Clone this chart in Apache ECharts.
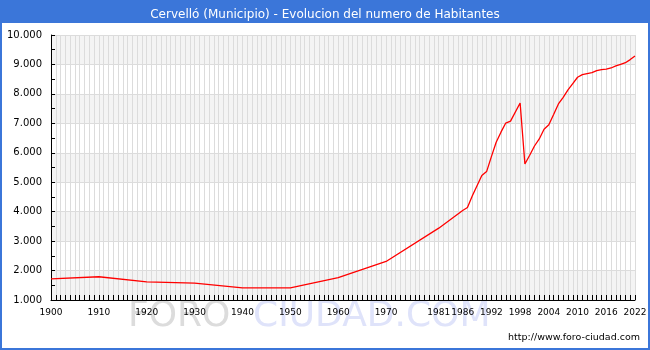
<!DOCTYPE html>
<html>
<head>
<meta charset="utf-8">
<script src="https://cdn.jsdelivr.net/npm/echarts@6/dist/echarts.min.js"></script>
<style>
  html, body { margin: 0; padding: 0; background: #ffffff; }
  #chart { width: 650px; height: 350px; }
</style>
</head>
<body>
<div id="chart"></div>
<script>
// Censos y padrones de Cervelló (habitantes por año)
const anios = [
  1900, 1910, 1920, 1930, 1940, 1950, 1960, 1970, 1981, 1986,
  1987, 1988, 1989, 1990, 1991, 1992, 1993, 1994, 1995, 1996,
  1998, 1999, 2000, 2001, 2002, 2003, 2004, 2005, 2006, 2007,
  2008, 2009, 2010, 2011, 2012, 2013, 2014, 2015, 2016, 2017,
  2018, 2019, 2020, 2021, 2022
];
const habitantes = [
  1720, 1790, 1615, 1575, 1410, 1415, 1760, 2310, 3440, 4040,
  4140, 4530, 4880, 5225, 5360, 5870, 6360, 6700, 7010, 7075,
  7690, 5620, 5915, 6230, 6470, 6800, 6955, 7300, 7660, 7885,
  8135, 8350, 8565, 8655, 8690, 8720, 8790, 8825, 8840, 8880,
  8950, 9005, 9060, 9165, 9290
];
// Años rotulados en el eje horizontal
const etiquetasX = [1900, 1910, 1920, 1930, 1940, 1950, 1960, 1970, 1981, 1986, 1992, 1998, 2004, 2010, 2016, 2022];
// Rango del eje vertical
const yMin = 1000, yMax = 10000, yPaso = 1000;

const AZUL = '#3b76d9';
const FUENTE = 'DejaVu Sans';

function miles(v) {
  return String(v).replace(/\B(?=(\d{3})+(?!\d))/g, '.');
}

const chart = echarts.init(document.getElementById('chart'), null, { renderer: 'canvas' });

chart.setOption({
  animation: false,
  backgroundColor: '#ffffff',
  title: {
    text: 'Cervelló (Municipio) - Evolucion del numero de Habitantes',
    left: 'center',
    top: 4,
    z: 10,
    textStyle: { color: '#ffffff', fontSize: 12, fontWeight: 'normal', fontFamily: FUENTE }
  },
  grid: { left: 51, right: 15, top: 35, bottom: 50, containLabel: false },
  xAxis: {
    type: 'value',
    min: 1900,
    max: 2022,
    interval: 1,
    z: 5,
    axisLine: { show: true, onZero: false, lineStyle: { color: '#000000', width: 1 } },
    axisTick: { show: true, inside: true, length: 5, lineStyle: { color: '#000000' } },
    axisLabel: {
      show: true,
      margin: 8,
      fontSize: 9,
      color: '#000000',
      fontFamily: FUENTE,
      showMinLabel: true,
      showMaxLabel: true,
      formatter: function (v) {
        const a = Math.round(v);
        return etiquetasX.indexOf(a) >= 0 ? String(a) : '';
      }
    },
    splitLine: { show: true, lineStyle: { color: '#dcdcdc', width: 1 } }
  },
  yAxis: {
    type: 'value',
    min: yMin,
    max: yMax,
    interval: yPaso,
    z: 5,
    axisLine: { show: true, lineStyle: { color: '#000000', width: 1 } },
    axisTick: { show: true, inside: true, length: 4, lineStyle: { color: '#000000' } },
    minorTick: { show: true, splitNumber: 2, length: 4, lineStyle: { color: '#000000' } },
    axisLabel: {
      margin: 9,
      fontSize: 10,
      color: '#000000',
      fontFamily: FUENTE,
      formatter: function (v) { return miles(v); }
    },
    splitLine: { show: true, lineStyle: { color: '#dcdcdc', width: 1 } },
    splitArea: { show: true, areaStyle: { color: ['#f4f4f4', '#ffffff'] } }
  },
  series: [{
    type: 'line',
    name: 'Habitantes',
    data: anios.map(function (a, i) { return [a, habitantes[i]]; }),
    showSymbol: false,
    symbol: 'none',
    silent: true,
    z: 6,
    lineStyle: { color: '#ff0000', width: 1.3 }
  }],
  graphic: [
    {
      type: 'rect',
      z: 0,
      silent: true,
      shape: { x: 0, y: 0, width: 650, height: 23 },
      style: { fill: AZUL }
    },
    {
      type: 'text',
      z: 0,
      silent: true,
      x: 128,
      y: 317,
      style: {
        text: 'FORO',
        fill: '#dcdcdc',
        fontSize: 36,
        fontFamily: FUENTE,
        align: 'left',
        verticalAlign: 'middle'
      }
    },
    {
      type: 'text',
      z: 0,
      silent: true,
      x: 253,
      y: 317,
      style: {
        text: 'CIUDAD.COM',
        fill: '#dfe3fa',
        fontSize: 36,
        fontFamily: FUENTE,
        align: 'left',
        verticalAlign: 'middle'
      }
    },
    {
      type: 'text',
      z: 10,
      silent: true,
      x: 640,
      y: 338,
      style: {
        text: 'http://www.foro-ciudad.com',
        fill: '#000000',
        fontSize: 9.5,
        fontFamily: FUENTE,
        align: 'right',
        verticalAlign: 'middle'
      }
    },
    {
      type: 'rect',
      z: 100,
      silent: true,
      shape: { x: 1, y: 1, width: 648, height: 348 },
      style: { fill: 'none', stroke: AZUL, lineWidth: 2 }
    }
  ]
});
</script>
</body>
</html>
